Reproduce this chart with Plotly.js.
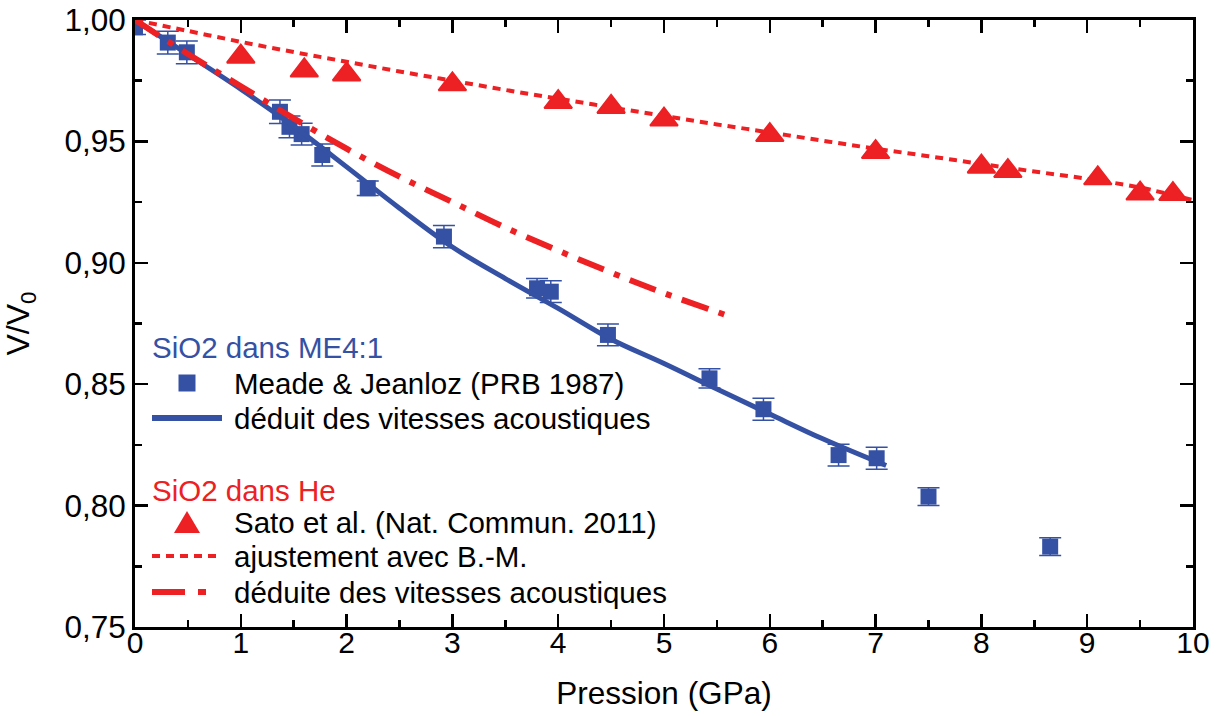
<!DOCTYPE html>
<html>
<head>
<meta charset="utf-8">
<script src="https://cdn.plot.ly/plotly-3.0.1.min.js"></script>
<style>html,body{margin:0;padding:0;background:#fff;}#chart{width:1226px;height:716px;}</style>
</head>
<body>
<div id="chart"></div>
<script>
// Meade & Jeanloz (PRB 1987) - SiO2 in ME4:1
const pressureMJ = [0.0, 0.31, 0.49, 1.37, 1.46, 1.575, 1.77, 2.20, 2.92, 3.80, 3.93, 4.47, 5.43, 5.94, 6.65, 7.01, 7.50, 8.65];
const volumeMJ   = [0.997, 0.9907, 0.9867, 0.9622, 0.9560, 0.9530, 0.9444, 0.9307, 0.9108, 0.8895, 0.8881, 0.8703, 0.8524, 0.8397, 0.8208, 0.8195, 0.8037, 0.7831];
const errorMJ    = [0.003, 0.0047, 0.0047, 0.0048, 0.0045, 0.0045, 0.0045, 0.003, 0.0046, 0.0040, 0.0045, 0.0045, 0.0040, 0.0045, 0.0045, 0.0045, 0.0037, 0.0037];

// Blue curve: deduced from acoustic velocities (ME4:1)
const pressureAcBlue = [0, 0.5, 1, 1.5, 2, 2.5, 3, 3.5, 4, 4.5, 5, 5.5, 6, 6.5, 7.1];
const volumeAcBlue   = [1.0, 0.9858, 0.9715, 0.9562, 0.9395, 0.9225, 0.9065, 0.8935, 0.8812, 0.8685, 0.8585, 0.8480, 0.8377, 0.8275, 0.8165];

// Sato et al. (Nat. Commun. 2011) - SiO2 in He
const pressureSato = [1.00, 1.60, 2.00, 3.00, 4.00, 4.50, 5.00, 6.00, 7.00, 8.00, 8.25, 9.10, 9.50, 9.81];
const volumeSato   = [0.9849, 0.9792, 0.9776, 0.9735, 0.9662, 0.9642, 0.9590, 0.9526, 0.9456, 0.9396, 0.9378, 0.9348, 0.9285, 0.9283];

// Birch-Murnaghan fit
const pressureBM = [0, 0.5, 1, 1.5, 2, 2.5, 3, 3.5, 4, 4.5, 5, 5.5, 6, 6.5, 7, 7.5, 8, 8.5, 9, 9.5, 10];
const volumeBM   = [1.0, 0.9955, 0.9910, 0.9868, 0.9828, 0.9788, 0.9750, 0.9712, 0.9676, 0.9640, 0.9605, 0.9570, 0.9537, 0.9503, 0.9470, 0.9439, 0.9407, 0.9376, 0.9346, 0.9310, 0.9258];

// Red dash-dot: deduced from acoustic velocities (He)
const pressureAcRed = [0, 0.5, 1, 1.5, 2, 2.5, 3, 3.5, 4, 4.5, 5, 5.65];
const volumeAcRed   = [1.0, 0.9860, 0.9727, 0.9595, 0.9470, 0.9355, 0.9250, 0.9145, 0.9050, 0.8960, 0.8875, 0.8775];

const xTickVals = [0, 1, 2, 3, 4, 5, 6, 7, 8, 9, 10];
const yTickVals = [0.75, 0.80, 0.85, 0.90, 0.95, 1.00];

const groupTitles = ['SiO2 dans ME4:1', 'SiO2 dans He'];
const seriesNames = ['Meade &amp; Jeanloz (PRB 1987)', 'déduit des vitesses acoustiques',
                     'Sato et al. (Nat. Commun. 2011)', 'ajustement avec B.-M.', 'déduite des vitesses acoustiques'];

const BLUE = '#3551a4';
const RED = '#ed2024';
const FONT = '"Liberation Sans", Arial, sans-serif';
const DOT_DASH = '8px,6px';
const DASHDOT_DASH = '28px,11px,6px,11px';

const traces = [
  {
    x: pressureMJ, y: volumeMJ, type: 'scatter', mode: 'markers', name: seriesNames[0],
    marker: {symbol: 'square', size: 16, color: BLUE},
    error_y: {type: 'data', array: errorMJ, visible: true, color: BLUE, thickness: 1.5, width: 11}
  },
  {
    x: pressureAcBlue, y: volumeAcBlue, type: 'scatter', mode: 'lines', name: seriesNames[1],
    line: {color: BLUE, width: 5, shape: 'spline'}
  },
  {
    x: pressureBM, y: volumeBM, type: 'scatter', mode: 'lines', name: seriesNames[3],
    line: {color: RED, width: 4, dash: DOT_DASH, shape: 'spline'}
  },
  {
    x: pressureAcRed, y: volumeAcRed, type: 'scatter', mode: 'lines', name: seriesNames[4],
    line: {color: RED, width: 6, dash: DASHDOT_DASH, shape: 'spline'}
  },
  {
    x: pressureSato, y: volumeSato, type: 'scatter', mode: 'markers', name: seriesNames[2],
    marker: {symbol: 'triangle-up', size: 24, color: RED, line: {color: RED, width: 2}}
  }
];

// Manual legend (layout only): pixel positions converted to paper coordinates
const PLOT = {l: 135, t: 20, w: 1058, h: 607};
const px = v => (v - PLOT.l) / PLOT.w;
const py = v => 1 - (v - PLOT.t) / PLOT.h;
const LEG_TEXT_X = 232, LEG_TITLE_X = 150, LEG_SYM_X0 = 152, LEG_SYM_X1 = 222, LEG_SYM_C = 187;
const rowY = [347, 383, 418, 490, 522, 556, 592];

const annotations = [
  {text: groupTitles[0], x: px(LEG_TITLE_X), y: py(rowY[0]), color: BLUE},
  {text: seriesNames[0], x: px(LEG_TEXT_X), y: py(rowY[1]), color: '#000'},
  {text: seriesNames[1], x: px(LEG_TEXT_X), y: py(rowY[2]), color: '#000'},
  {text: groupTitles[1], x: px(LEG_TITLE_X), y: py(rowY[3]), color: RED},
  {text: seriesNames[2], x: px(LEG_TEXT_X), y: py(rowY[4]), color: '#000'},
  {text: seriesNames[3], x: px(LEG_TEXT_X), y: py(rowY[5]), color: '#000'},
  {text: seriesNames[4], x: px(LEG_TEXT_X), y: py(rowY[6]), color: '#000'}
].map(a => ({
  text: a.text, x: a.x, y: a.y, xref: 'paper', yref: 'paper',
  xanchor: 'left', yanchor: 'middle', showarrow: false,
  font: {family: FONT, size: 29.5, color: a.color}
}));

const shapes = [
  // square symbol
  {type: 'rect', xref: 'paper', yref: 'paper', x0: px(LEG_SYM_C - 8.5), x1: px(LEG_SYM_C + 8.5),
   y0: py(rowY[1] - 8.5), y1: py(rowY[1] + 8.5), fillcolor: BLUE, line: {width: 0}},
  // blue solid line
  {type: 'line', xref: 'paper', yref: 'paper', x0: px(LEG_SYM_X0), x1: px(LEG_SYM_X1),
   y0: py(rowY[2]), y1: py(rowY[2]), line: {color: BLUE, width: 6}},
  // triangle symbol
  {type: 'path', xref: 'paper', yref: 'paper',
   path: 'M' + px(LEG_SYM_C - 13) + ',' + py(rowY[4] + 11) + ' L' + px(LEG_SYM_C + 13) + ',' + py(rowY[4] + 11) +
         ' L' + px(LEG_SYM_C) + ',' + py(rowY[4] - 11) + ' Z',
   fillcolor: RED, line: {width: 0}},
  // dotted line
  {type: 'line', xref: 'paper', yref: 'paper', x0: px(LEG_SYM_X0), x1: px(LEG_SYM_X0 + 64),
   y0: py(rowY[5]), y1: py(rowY[5]), line: {color: RED, width: 4, dash: DOT_DASH}},
  // dash-dot line
  {type: 'line', xref: 'paper', yref: 'paper', x0: px(LEG_SYM_X0), x1: px(LEG_SYM_X0 + 58),
   y0: py(rowY[6]), y1: py(rowY[6]), line: {color: RED, width: 6, dash: '33px,13px,8px,13px'}}
];

const layout = {
  width: 1226, height: 716,
  margin: {l: 135, r: 33, t: 20, b: 89},
  paper_bgcolor: '#fff', plot_bgcolor: '#fff',
  separators: ',.',
  font: {family: FONT, size: 29, color: '#000'},
  showlegend: false,
  annotations: annotations,
  shapes: shapes,
  xaxis: {
    range: [0, 10], tickvals: xTickVals, ticktext: xTickVals.map(String),
    ticks: 'inside', ticklen: 13, tickwidth: 2.5, tickcolor: '#000',
    minor: {ticks: 'inside', ticklen: 7, tickwidth: 2.5, dtick: 0.5, tickcolor: '#000'},
    showline: true, linewidth: 3, linecolor: '#000', mirror: 'ticks',
    showgrid: false, zeroline: false,
    ticklabelstandoff: -13,
    tickfont: {size: 30, family: FONT},
    title: {text: 'Pression (GPa)', font: {size: 31.5, family: FONT}, standoff: 24}
  },
  yaxis: {
    range: [0.75, 1.00], tickvals: yTickVals, tickformat: '.2f',
    ticks: 'inside', ticklen: 13, tickwidth: 2.5, tickcolor: '#000',
    minor: {ticks: 'inside', ticklen: 7, tickwidth: 2.5, dtick: 0.025, tickcolor: '#000'},
    showline: true, linewidth: 3, linecolor: '#000', mirror: 'ticks',
    showgrid: false, zeroline: false,
    tickfont: {size: 31.5, family: FONT},
    title: {text: 'V/V<sub>0</sub>', font: {size: 32, family: FONT}, standoff: 26}
  }
};

Plotly.newPlot('chart', traces, layout, {staticPlot: true, displayModeBar: false});
</script>
</body>
</html>
